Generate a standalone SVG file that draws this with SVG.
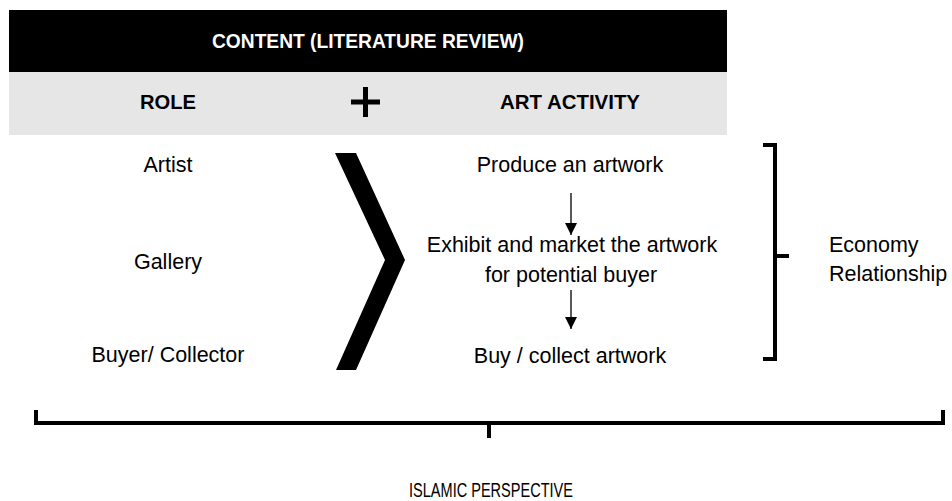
<svg xmlns="http://www.w3.org/2000/svg" width="952" height="501" viewBox="0 0 952 501">
<defs>
<style>
.t{font-family:"Liberation Sans",Arial,sans-serif;font-size:21.5px;fill:#000;text-anchor:middle}
.h{font-family:"Liberation Sans",Arial,sans-serif;font-size:20.5px;font-weight:bold;text-anchor:middle}
.br{fill:none;stroke:#000;stroke-width:4}
.ar{stroke:#000;stroke-width:1.3;fill:none}
</style>
<marker id="ah" markerWidth="12" markerHeight="12" refX="12" refY="6" orient="auto" markerUnits="userSpaceOnUse" viewBox="0 0 12 12">
<path d="M0,0 L12,6 L0,12 Z" fill="#000"/>
</marker>
</defs>
<rect width="952" height="501" fill="#fff"/>
<g id="header">
<rect x="9" y="10" width="718" height="62" fill="#000"/>
<text class="h" x="368" y="48" fill="#fff" textLength="312" lengthAdjust="spacingAndGlyphs">CONTENT (LITERATURE REVIEW)</text>
<rect x="9" y="72" width="718" height="63" fill="#e6e6e6"/>
<text class="h" x="168" y="109" fill="#000" textLength="56" lengthAdjust="spacingAndGlyphs">ROLE</text>
<text class="h" x="570" y="109" fill="#000" textLength="140" lengthAdjust="spacingAndGlyphs">ART ACTIVITY</text>
<path d="M351,102 H380 M365.5,87 V117" stroke="#000" stroke-width="5"/>
</g>
<g id="roles">
<text class="t" x="168" y="172">Artist</text>
<text class="t" x="168" y="269">Gallery</text>
<text class="t" x="168" y="362">Buyer/ Collector</text>
</g>
<g id="chevron">
<polygon points="335,153 356,153 405,260 356,370 336,370 385,260" fill="#000"/>
</g>
<g id="act1"><text class="t" x="570" y="172">Produce an artwork</text></g>
<g id="act2"><text class="t" x="572" y="252">Exhibit and market the artwork</text><text class="t" x="571" y="282">for potential buyer</text></g>
<g id="act3"><text class="t" x="570" y="363">Buy / collect artwork</text></g>
<g id="connectors">
<line class="ar" x1="571" y1="193" x2="571" y2="235" marker-end="url(#ah)"/>
<line class="ar" x1="571" y1="290" x2="571" y2="329" marker-end="url(#ah)"/>
</g>
<g id="economy">
<path class="br" d="M763,145 H775 V359 H763 M775,256 H789"/>
<text class="t" x="829" y="252" style="text-anchor:start">Economy</text>
<text class="t" x="829" y="281" style="text-anchor:start">Relationship</text>
</g>
<g id="islamic">
<path class="br" d="M36,410 V423 H943 V410 M489,423 V438"/>
<text class="t" x="491" y="497" style="font-size:19.5px" textLength="164" lengthAdjust="spacingAndGlyphs">ISLAMIC PERSPECTIVE</text>
</g>
</svg>
